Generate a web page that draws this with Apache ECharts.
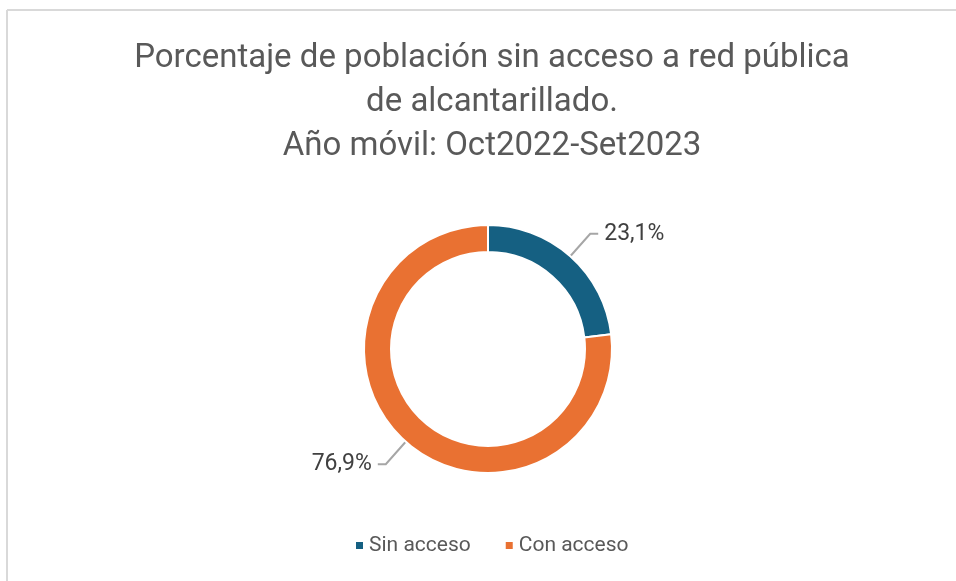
<!DOCTYPE html>
<html>
<head>
<meta charset="utf-8">
<script src="https://cdn.jsdelivr.net/npm/echarts@6/dist/echarts.min.js"></script>
<style>
    html, body { margin: 0; padding: 0; background: #fff; }
    #chart { width: 956px; height: 581px; }
</style>
</head>
<body>
<div id="chart"></div>
<script>
// datos del gráfico
const categorias = ['Sin acceso', 'Con acceso'];
const valores = [23.1, 76.9];
const colores = ['#156082', '#E97132'];

const chart = echarts.init(document.getElementById('chart'));

chart.setOption({
    backgroundColor: '#fff',
    animation: false,
    title: {
        text: 'Porcentaje de población sin acceso a red pública\nde alcantarillado.\nAño móvil: Oct2022-Set2023',
        left: 487,
        textAlign: 'center',
        top: 32,
        textStyle: {
            fontFamily: 'Roboto',
            fontSize: 33,
            fontWeight: 'normal',
            color: '#595959',
            lineHeight: 44
        }
    },
    legend: {
        bottom: 20,
        left: 349,
        icon: 'rect',
        itemWidth: 9,
        itemHeight: 9,
        itemGap: 33,
        textStyle: {
            fontFamily: 'Roboto',
            fontSize: 21,
            color: '#595959'
        },
        data: categorias
    },
    graphic: [
        { type: 'line', shape: { x1: 7, y1: 10, x2: 956, y2: 10 }, style: { stroke: '#d9d9d9', lineWidth: 2 } },
        { type: 'line', shape: { x1: 7, y1: 10, x2: 7, y2: 581 }, style: { stroke: '#d9d9d9', lineWidth: 2 } }
    ],
    series: [{
        type: 'pie',
        center: [488, 349],
        radius: [97, 124],
        startAngle: 90,
        clockwise: true,
        itemStyle: {
            borderColor: '#fff',
            borderWidth: 2
        },
        label: {
            show: true,
            formatter: function (p) {
                return p.value.toFixed(1).replace('.', ',') + '%';
            },
            fontFamily: 'Roboto',
            fontSize: 23,
            color: '#404040',
            padding: [0, 1]
        },
        labelLine: {
            show: true,
            length: 30,
            length2: 8,
            lineStyle: { color: '#a6a6a6', width: 2 }
        },
        data: categorias.map(function (c, i) {
            return { name: c, value: valores[i], itemStyle: { color: colores[i] } };
        })
    }]
});
</script>
</body>
</html>
